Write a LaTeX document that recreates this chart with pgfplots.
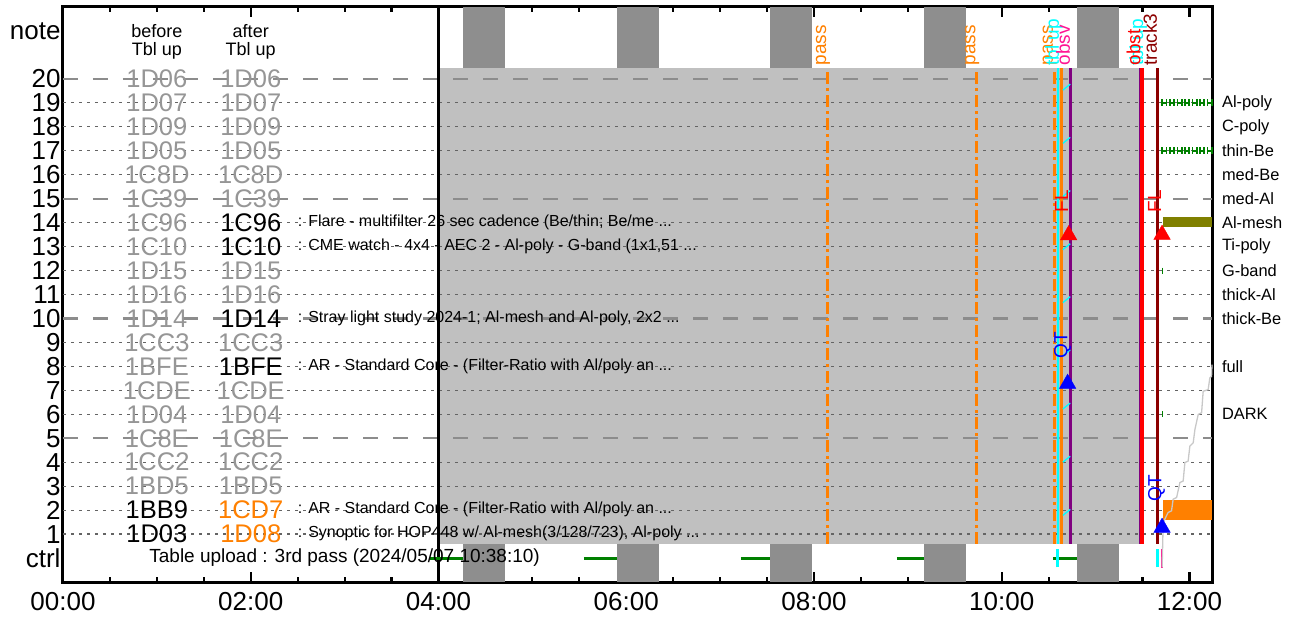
\documentclass[border=0pt]{standalone}
\usepackage{pgfplots}
\pgfplotsset{compat=1.18}
\usepackage{fontspec}
\setmainfont{Liberation Sans}

\definecolor{ltgray}{RGB}{192,192,192}
\definecolor{dkgray}{RGB}{142,142,142}
\definecolor{txtgray}{RGB}{150,150,150}
\definecolor{dotgray}{RGB}{100,100,100}
\definecolor{dashgray}{RGB}{140,140,140}
\definecolor{ora}{RGB}{255,128,0}
\definecolor{olv}{RGB}{128,128,0}
\definecolor{grn}{RGB}{0,128,0}
\definecolor{cyn}{RGB}{0,255,255}
\definecolor{pur}{RGB}{128,0,128}
\definecolor{mar}{RGB}{140,0,0}
\definecolor{pnk}{RGB}{255,20,147}
\definecolor{stair}{RGB}{200,200,200}

\newcommand{\cf}{\fontsize{25.5}{27}\selectfont}
\newcommand{\df}{\fontsize{16}{18}\selectfont}
\newcommand{\tf}{\fontsize{19}{21}\selectfont}
\newcommand{\lf}{\fontsize{16.4}{18}\selectfont}
% code in a table column: x, row, colour, text
\newcommand{\cd}[4]{\node[text=#3, font=\cf, inner sep=0pt] at (axis cs:#1,#2) {#4};}
% description after the column
\newcommand{\ds}[2]{\node[anchor=west, font=\df, inner sep=0pt, text height=1.45ex, text depth=0pt] at (axis cs:2.5,#1) {#2};}
% rotated label at top
\newcommand{\tl}[3]{\node[rotate=90, anchor=base west, text=#2, font=\tf, inner sep=0pt] at (axis cs:#1,20.55) {#3};}
% legend text on the right
\newcommand{\rl}[2]{\node[anchor=west, font=\lf, inner sep=0pt] at (axis cs:12.345,#1) {#2};}

\begin{document}
\begin{tikzpicture}
\useasboundingbox (-63pt,-43pt) rectangle (1233pt,582pt);
\begin{axis}[
    scale only axis,
    width=1149pt, height=575pt,
    at={(0pt,0pt)}, anchor=south west,
    xmin=0, xmax=12.24,
    ymin=-1, ymax=23,
    clip=false,
    unbounded coords=jump,
    axis line style={line width=3pt},
    xtick={0,2,4,6,8,10,12},
    xticklabels={00:00,02:00,04:00,06:00,08:00,10:00,12:00},
    minor x tick num=3,
    ytick={0,1,2,3,4,5,6,7,8,9,10,11,12,13,14,15,16,17,18,19,20,22},
    yticklabels={ctrl,1,2,3,4,5,6,7,8,9,10,11,12,13,14,15,16,17,18,19,20,note},
    ytick style={draw=none},
    xtick style={line width=2.2pt, black},
    major tick length=10pt, minor tick length=5pt,
    tick align=inside,
    xticklabel style={font=\fontsize{26}{28}\selectfont, yshift=-7pt},
    yticklabel style={font=\fontsize{26}{28}\selectfont, xshift=1pt},
]

% orbit night blocks
\addplot[fill=dkgray, draw=none] coordinates {(4.26,-1) (4.71,-1) (4.71,23) (4.26,23)};
\addplot[fill=dkgray, draw=none] coordinates {(5.90,-1) (6.35,-1) (6.35,23) (5.90,23)};
\addplot[fill=dkgray, draw=none] coordinates {(7.53,-1) (7.975,-1) (7.975,23) (7.53,23)};
\addplot[fill=dkgray, draw=none] coordinates {(9.17,-1) (9.615,-1) (9.615,23) (9.17,23)};
\addplot[fill=dkgray, draw=none] coordinates {(10.80,-1) (11.25,-1) (11.25,23) (10.80,23)};

% executed part of the timeline
\addplot[fill=ltgray, draw=none] coordinates {(4.0,0.6) (11.46,0.6) (11.46,20.45) (4.0,20.45)};

% row lines
\pgfplotsinvokeforeach{1,2,3,4,6,7,8,9,11,12,13,14,16,17,18,19}{
  \addplot[dotgray, line width=1.2pt, dash pattern=on 3pt off 5pt] coordinates {(0,#1) (12.24,#1)};
}
\pgfplotsinvokeforeach{5,10,15,20}{
  \addplot[dashgray, line width=2.2pt, dash pattern=on 15pt off 15pt] coordinates {(0,#1) (12.24,#1)};
}

% 04:00 marker
\addplot[black, line width=2.6pt] coordinates {(4.0,-1) (4.0,23)};

% ground station passes
\addplot[ora, line width=3pt, dash pattern=on 12pt off 4pt on 3pt off 4pt] coordinates {(8.149,0.6) (8.149,20.45)};
\addplot[ora, line width=3pt, dash pattern=on 12pt off 4pt on 3pt off 4pt] coordinates {(9.735,0.6) (9.735,20.45)};
\addplot[ora, line width=3pt, dash pattern=on 12pt off 4pt on 3pt off 4pt] coordinates {(10.561,0.6) (10.561,20.45)};

% events
\addplot[cyn, line width=2.2pt] coordinates {(10.602,0.6) (10.602,20.45)};
\addplot[ora, line width=3.5pt] coordinates {(10.636,0.6) (10.636,20.45)};
\addplot[pur, line width=3.5pt] coordinates {(10.732,0.6) (10.732,20.45)};
\addplot[cyn, line width=1.3pt] coordinates {
  (10.651,19.53) (10.73,19.78) (nan,nan)
  (10.651,17.31) (10.73,17.56) (nan,nan)
  (10.651,15.09) (10.73,15.34) (nan,nan)
  (10.651,12.87) (10.73,13.12) (nan,nan)
  (10.651,10.66) (10.73,10.91) (nan,nan)
  (10.651,8.44) (10.73,8.69) (nan,nan)
  (10.651,6.22) (10.73,6.47) (nan,nan)
  (10.651,4.00) (10.73,4.25) (nan,nan)
  (10.651,1.78) (10.73,2.03)
};
\addplot[pur, line width=1.3pt] coordinates {(11.464,0.6) (11.464,20.45)};
\addplot[red, line width=3.8pt] coordinates {(11.497,0.6) (11.497,20.45)};
\addplot[mar, line width=3.5pt] coordinates {(11.658,0.6) (11.658,20.45)};

% ctrl row
\addplot[grn, line width=3pt] coordinates {
  (3.91,0) (4.26,0) (nan,nan)
  (5.548,0) (5.90,0) (nan,nan)
  (7.222,0) (7.53,0) (nan,nan)
  (8.884,0) (9.17,0) (nan,nan)
  (10.546,0) (10.80,0)
};
\addplot[cyn, line width=3pt] coordinates {(10.591,-0.386) (10.591,0.376)};
\addplot[cyn, line width=2.5pt] coordinates {(11.660,-0.386) (11.660,0.376)};
\addplot[pnk, line width=1.8pt] coordinates {(11.709,-0.41) (11.709,0.376)};

% filter usage
\addplot[grn, line width=2pt, mark=|, mark size=3.4pt, mark options={solid, line width=1.8pt}] coordinates {
  (11.709,19) (11.756,19) (nan,nan) (11.791,19) (11.837,19) (nan,nan)
  (11.873,19) (11.919,19) (nan,nan) (11.951,19) (11.997,19) (nan,nan)
  (12.033,19) (12.079,19) (nan,nan) (12.111,19) (12.157,19) (nan,nan)
  (12.193,19) (12.239,19)
};
\addplot[grn, line width=2pt, mark=|, mark size=3.4pt, mark options={solid, line width=1.8pt}] coordinates {
  (11.709,17) (11.756,17) (nan,nan) (11.791,17) (11.837,17) (nan,nan)
  (11.873,17) (11.919,17) (nan,nan) (11.951,17) (11.997,17) (nan,nan)
  (12.033,17) (12.079,17) (nan,nan) (12.111,17) (12.157,17) (nan,nan)
  (12.193,17) (12.239,17)
};
\addplot[olv, line width=10pt] coordinates {(11.72,14.03) (12.24,14.03)};
\addplot[grn, only marks, mark=|, mark size=3pt, mark options={line width=1.3pt}] coordinates {(11.709,12) (11.709,6)};
\addplot[ora, line width=19.7pt] coordinates {(11.72,2.0) (12.24,2.0)};

% exposure staircase
\addplot[stair, line width=1.3pt] coordinates {
  (11.709,-0.385) (11.720,1.487) (11.773,1.903) (11.809,1.969)
  (11.826,2.456) (11.863,2.527) (11.898,3.151) (11.933,3.217)
  (11.951,3.983) (11.986,4.049) (12.004,4.673) (12.040,4.814)
  (12.058,5.368) (12.093,5.992) (12.129,6.062) (12.146,6.961)
  (12.199,7.032) (12.217,7.518) (12.235,7.585) (12.24,8.07)
};

% flare and QT triggers
\addplot[red, only marks, mark=triangle*, mark size=9.5pt] coordinates {(10.713,13.48) (11.708,13.5)};
\addplot[blue, only marks, mark=triangle*, mark size=9.5pt] coordinates {(10.702,7.28) (11.708,1.27)};
\node[rotate=90, anchor=base, text=red, font=\tf, inner sep=0pt] at (axis cs:10.706,14.9) {FL};
\node[rotate=90, anchor=base, text=red, font=\tf, inner sep=0pt] at (axis cs:11.698,14.9) {FL};
\node[rotate=90, anchor=base, text=blue, font=\tf, inner sep=0pt] at (axis cs:10.698,8.9) {QT};
\node[rotate=90, anchor=base, text=blue, font=\tf, inner sep=0pt] at (axis cs:11.700,2.9) {QT};

% labels at top
\tl{8.13}{ora}{pass}
\tl{9.72}{ora}{pass}
\tl{10.545}{ora}{pass}
\tl{10.61}{cyn}{tbl up}
\tl{10.726}{pnk}{obsv}
\tl{11.505}{cyn}{tbl up}
\tl{11.476}{red}{obst}
\tl{11.652}{mar}{track3}

% table columns
\node[align=center, font=\fontsize{18}{18.5}\selectfont] at (axis cs:1,21.55) {before\\Tbl up};
\node[align=center, font=\fontsize{18}{18.5}\selectfont] at (axis cs:2,21.55) {after\\Tbl up};

\cd{1}{20}{txtgray}{1D06} \cd{2}{20}{txtgray}{1D06}
\cd{1}{19}{txtgray}{1D07} \cd{2}{19}{txtgray}{1D07}
\cd{1}{18}{txtgray}{1D09} \cd{2}{18}{txtgray}{1D09}
\cd{1}{17}{txtgray}{1D05} \cd{2}{17}{txtgray}{1D05}
\cd{1}{16}{txtgray}{1C8D} \cd{2}{16}{txtgray}{1C8D}
\cd{1}{15}{txtgray}{1C39} \cd{2}{15}{txtgray}{1C39}
\cd{1}{14}{txtgray}{1C96} \cd{2}{14}{black}{1C96}
\cd{1}{13}{txtgray}{1C10} \cd{2}{13}{black}{1C10}
\cd{1}{12}{txtgray}{1D15} \cd{2}{12}{txtgray}{1D15}
\cd{1}{11}{txtgray}{1D16} \cd{2}{11}{txtgray}{1D16}
\cd{1}{10}{txtgray}{1D14} \cd{2}{10}{black}{1D14}
\cd{1}{9}{txtgray}{1CC3} \cd{2}{9}{txtgray}{1CC3}
\cd{1}{8}{txtgray}{1BFE} \cd{2}{8}{black}{1BFE}
\cd{1}{7}{txtgray}{1CDE} \cd{2}{7}{txtgray}{1CDE}
\cd{1}{6}{txtgray}{1D04} \cd{2}{6}{txtgray}{1D04}
\cd{1}{5}{txtgray}{1C8E} \cd{2}{5}{txtgray}{1C8E}
\cd{1}{4}{txtgray}{1CC2} \cd{2}{4}{txtgray}{1CC2}
\cd{1}{3}{txtgray}{1BD5} \cd{2}{3}{txtgray}{1BD5}
\cd{1}{2}{black}{1BB9} \cd{2}{2}{ora}{1CD7}
\cd{1}{1}{black}{1D03} \cd{2}{1}{ora}{1D08}

\ds{14}{: Flare - multifilter 26 sec cadence (Be/thin; Be/me ...}
\ds{13}{: CME watch - 4x4 - AEC 2 - Al-poly - G-band (1x1,51 ...}
\ds{10}{: Stray light study 2024-1; Al-mesh and Al-poly, 2x2 ...}
\ds{8}{: AR - Standard Core - (Filter-Ratio with Al/poly an ...}
\ds{2}{: AR - Standard Core - (Filter-Ratio with Al/poly an ...}
\ds{1}{: Synoptic for HOP448 w/ Al-mesh(3/128/723), Al-poly ...}

\node[font=\tf, inner sep=0pt] at (axis cs:3.0,0) {Table upload : 3rd pass (2024/05/07 10:38:10)};

% filter names
\rl{19}{Al-poly}
\rl{18}{C-poly}
\rl{17}{thin-Be}
\rl{16}{med-Be}
\rl{15}{med-Al}
\rl{14}{Al-mesh}
\rl{13}{Ti-poly}
\rl{12}{G-band}
\rl{11}{thick-Al}
\rl{10}{thick-Be}
\rl{8}{full}
\rl{6}{DARK}
\end{axis}
\end{tikzpicture}
\end{document}
